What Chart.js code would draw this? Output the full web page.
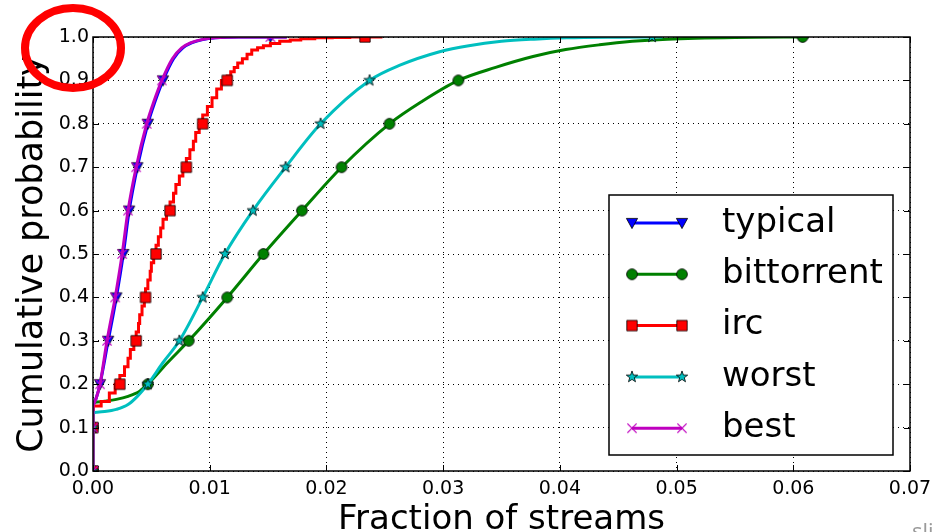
<!DOCTYPE html>
<html>
<head>
<meta charset="utf-8">
<script src="https://cdn.jsdelivr.net/npm/chart.js@4.4.0/dist/chart.umd.min.js"></script>
<style>
  html, body { margin: 0; padding: 0; background: #fff; overflow: hidden; }
  #wrap { position: relative; width: 947px; height: 532px; overflow: hidden; }
  #watermark { position: absolute; left: 912px; top: 515px; font: 22px 'Open Sans', sans-serif; color: #9a9a9a; }
</style>
</head>
<body>
<div id="wrap">
  <canvas id="cdfChart" width="947" height="532"></canvas>
  <div id="watermark">sli</div>
</div>
<script>
const seriesNames = ['typical', 'bittorrent', 'irc', 'worst', 'best'];
const seriesColors = ['#0000ff', '#008000', '#ff0000', '#00bfbf', '#bf00bf'];
const xTickLabels = ['0.00', '0.01', '0.02', '0.03', '0.04', '0.05', '0.06', '0.07'];
const yTickLabels = ['0.0', '0.1', '0.2', '0.3', '0.4', '0.5', '0.6', '0.7', '0.8', '0.9', '1.0'];

// markers sit on every tenth of the CDF
const markY = [0, 0.1, 0.2, 0.3, 0.4, 0.5, 0.6, 0.7, 0.8, 0.9, 1.0];

// first two points of each curve are the jump at x = 0
const typicalX = [0, 0, 0.0003, 0.0006, 0.0013, 0.0020, 0.0026, 0.0031, 0.0038, 0.0047, 0.0053, 0.0060, 0.0069, 0.0077, 0.0085, 0.0094, 0.0105, 0.0125, 0.0166];
const typicalY = [0, 0.15, 0.17, 0.20, 0.30, 0.40, 0.50, 0.60, 0.70, 0.80, 0.85, 0.90, 0.95, 0.975, 0.987, 0.994, 0.998, 1.0, 1.0];
const typicalMarkX = [0, 0, 0.0006, 0.0013, 0.0020, 0.0026, 0.0031, 0.0038, 0.0047, 0.0060, 0.0152];

const bittorrentX = [0, 0, 0.0010, 0.0020, 0.0030, 0.0040, 0.0047, 0.0064, 0.0082, 0.0115, 0.0146, 0.0179, 0.0213, 0.0254, 0.0281, 0.0313, 0.0345, 0.0377, 0.0405, 0.0434, 0.0462, 0.0492, 0.0550, 0.0613];
const bittorrentY = [0, 0.158, 0.161, 0.165, 0.172, 0.184, 0.20, 0.25, 0.30, 0.40, 0.50, 0.60, 0.70, 0.80, 0.85, 0.90, 0.93, 0.955, 0.971, 0.982, 0.990, 0.995, 0.999, 1.0];
const bittorrentMarkX = [0, 0, 0.0047, 0.0082, 0.0115, 0.0146, 0.0179, 0.0213, 0.0254, 0.0313, 0.0608];

const ircX = [0, 0, 0.0007, 0.0014, 0.0019, 0.0023, 0.0027, 0.0030, 0.0032, 0.0035, 0.0037, 0.0039, 0.0040, 0.0042, 0.0044, 0.0045, 0.0047, 0.0049, 0.0050, 0.0052, 0.0054, 0.0056, 0.0058, 0.0060, 0.0063, 0.0066, 0.0069, 0.0071, 0.0074, 0.0077, 0.0080, 0.0083, 0.0086, 0.0088, 0.0091, 0.0094, 0.0098, 0.0102, 0.0106, 0.0110, 0.0115, 0.0118, 0.0121, 0.0124, 0.0128, 0.0132, 0.0136, 0.0141, 0.0146, 0.0152, 0.0160, 0.0169, 0.0178, 0.0190, 0.0205, 0.0220, 0.0233, 0.0248];
const ircY = [0, 0.14, 0.15, 0.16, 0.18, 0.20, 0.22, 0.24, 0.26, 0.28, 0.30, 0.32, 0.34, 0.36, 0.38, 0.40, 0.42, 0.44, 0.46, 0.48, 0.50, 0.52, 0.54, 0.56, 0.58, 0.60, 0.62, 0.64, 0.66, 0.68, 0.70, 0.72, 0.74, 0.76, 0.78, 0.80, 0.82, 0.84, 0.86, 0.88, 0.90, 0.91, 0.92, 0.93, 0.94, 0.95, 0.96, 0.97, 0.975, 0.98, 0.985, 0.99, 0.993, 0.996, 0.998, 0.999, 1.0, 1.0];
const ircMarkX = [0, 0, 0.0023, 0.0037, 0.0045, 0.0054, 0.0066, 0.0080, 0.0094, 0.0115, 0.0233];

const worstX = [0, 0, 0.0010, 0.0020, 0.0030, 0.0038, 0.0047, 0.0060, 0.0074, 0.0094, 0.0113, 0.0137, 0.0165, 0.0195, 0.0237, 0.0263, 0.0297, 0.0322, 0.0350, 0.0378, 0.0406, 0.0450, 0.0488];
const worstY = [0, 0.135, 0.137, 0.142, 0.153, 0.172, 0.20, 0.25, 0.30, 0.40, 0.50, 0.60, 0.70, 0.80, 0.90, 0.935, 0.966, 0.980, 0.990, 0.995, 0.998, 0.9995, 1.0];
const worstMarkX = [0, 0, 0.0047, 0.0074, 0.0094, 0.0113, 0.0137, 0.0165, 0.0195, 0.0237, 0.0479];

const bestX = [0, 0, 0.0003, 0.0006, 0.0012, 0.0019, 0.0025, 0.0030, 0.0037, 0.0046, 0.0052, 0.0059, 0.0068, 0.0076, 0.0084, 0.0093, 0.0104, 0.0125, 0.0166];
const bestY = [0, 0.15, 0.17, 0.20, 0.30, 0.40, 0.50, 0.60, 0.70, 0.80, 0.85, 0.90, 0.95, 0.975, 0.987, 0.994, 0.998, 1.0, 1.0];
const bestMarkX = [0, 0, 0.0006, 0.0012, 0.0019, 0.0025, 0.0030, 0.0037, 0.0046, 0.0059, 0.0152];

const FONT = 'DejaVu Sans';

// matplotlib-like marker glyphs, drawn once and reused as point styles
function makeMarker(kind, fill) {
  const c = document.createElement('canvas');
  c.width = 16; c.height = 16;
  const g = c.getContext('2d');
  g.translate(8, 8);
  g.fillStyle = fill;
  g.strokeStyle = '#000';
  g.lineWidth = 0.8;
  g.beginPath();
  if (kind === 'tri') {
    g.moveTo(-5.6, -4.6); g.lineTo(5.6, -4.6); g.lineTo(0, 5.6); g.closePath();
  } else if (kind === 'circle') {
    g.arc(0, 0, 5.4, 0, Math.PI * 2);
  } else if (kind === 'square') {
    g.rect(-5.2, -5.2, 10.4, 10.4);
  } else if (kind === 'star') {
    for (let i = 0; i < 10; i++) {
      const r = i % 2 ? 2.4 : 6;
      const a = -Math.PI / 2 + i * Math.PI / 5;
      if (i === 0) g.moveTo(r * Math.cos(a), r * Math.sin(a));
      else g.lineTo(r * Math.cos(a), r * Math.sin(a));
    }
    g.closePath();
  } else if (kind === 'x') {
    g.strokeStyle = fill;
    g.lineWidth = 1.3;
    g.moveTo(-4.6, -4.6); g.lineTo(4.6, 4.6);
    g.moveTo(4.6, -4.6); g.lineTo(-4.6, 4.6);
    g.stroke();
    return c;
  }
  g.fill();
  g.stroke();
  return c;
}

const seriesX = [typicalX, bittorrentX, ircX, worstX, bestX];
const seriesY = [typicalY, bittorrentY, ircY, worstY, bestY];
const seriesMarkX = [typicalMarkX, bittorrentMarkX, ircMarkX, worstMarkX, bestMarkX];
const markerKinds = ['tri', 'circle', 'square', 'star', 'x'];
const markers = markerKinds.map((k, i) => makeMarker(k, seriesColors[i]));

const toPoints = (xs, ys) => xs.map((x, j) => ({ x, y: ys[j] }));

const datasets = [];
seriesNames.forEach((name, i) => {
  const n = seriesNames.length;
  const base = 3 * (n - i); // later series paint over earlier ones, like matplotlib
  const lineStyle = { borderColor: seriesColors[i], borderWidth: 3, pointRadius: 0, clip: 0 };
  if (name === 'irc') {
    // irc has few distinct values, so its CDF is a staircase
    datasets.push({ ...lineStyle, label: name, data: toPoints(seriesX[i], seriesY[i]), stepped: 'after', order: base + 2 });
  } else {
    datasets.push({ ...lineStyle, label: name + ' jump', data: toPoints(seriesX[i].slice(0, 2), seriesY[i].slice(0, 2)), order: base + 2 });
    datasets.push({ ...lineStyle, label: name, data: toPoints(seriesX[i].slice(1), seriesY[i].slice(1)), cubicInterpolationMode: 'monotone', order: base + 1 });
  }
  datasets.push({
    label: name + ' markers',
    data: toPoints(seriesMarkX[i], markY),
    showLine: false,
    pointStyle: markers[i],
    pointRadius: 5,
    clip: 0,
    order: base,
  });
});

const framePlugin = {
  id: 'frame',
  afterDatasetsDraw(chart) {
    const { ctx, chartArea: a, scales: { x, y } } = chart;
    ctx.save();
    ctx.strokeStyle = '#000';
    ctx.lineWidth = 1;
    ctx.beginPath();
    x.ticks.forEach(t => {
      const px = Math.round(x.getPixelForValue(t.value)) + 0.5;
      ctx.moveTo(px, a.bottom); ctx.lineTo(px, a.bottom - 6);
      ctx.moveTo(px, a.top); ctx.lineTo(px, a.top + 6);
    });
    y.ticks.forEach(t => {
      const py = Math.round(y.getPixelForValue(t.value)) + 0.5;
      ctx.moveTo(a.left, py); ctx.lineTo(a.left + 6, py);
      ctx.moveTo(a.right, py); ctx.lineTo(a.right - 6, py);
    });
    ctx.stroke();
    ctx.lineWidth = 1.5;
    ctx.strokeRect(a.left, a.top, a.right - a.left, a.bottom - a.top);
    ctx.restore();
  },
};

const legendPlugin = {
  id: 'boxLegend',
  afterDraw(chart) {
    const ctx = chart.ctx;
    ctx.save();
    ctx.fillStyle = '#fff';
    ctx.fillRect(609, 195, 284, 260);
    ctx.strokeStyle = '#000';
    ctx.lineWidth = 1.5;
    ctx.strokeRect(609, 195, 284, 260);
    ctx.font = `34px '${FONT}'`;
    ctx.textBaseline = 'middle';
    ctx.textAlign = 'left';
    seriesNames.forEach((name, i) => {
      const yRow = 223 + i * 51.3;
      ctx.strokeStyle = seriesColors[i];
      ctx.lineWidth = 3;
      ctx.beginPath();
      ctx.moveTo(632, yRow); ctx.lineTo(682, yRow);
      ctx.stroke();
      [632, 682].forEach(xm => ctx.drawImage(markers[i], xm - 8, yRow - 8));
      ctx.fillStyle = '#000';
      ctx.fillText(name, 722, yRow);
    });
    ctx.restore();
  },
};

// the red hand-drawn highlight round the 1.0 label
const circlePlugin = {
  id: 'highlight',
  afterDraw(chart) {
    const ctx = chart.ctx;
    ctx.save();
    ctx.strokeStyle = '#ff0000';
    ctx.lineWidth = 8;
    ctx.beginPath();
    ctx.ellipse(73, 48, 48, 40, 0, 0, Math.PI * 2);
    ctx.stroke();
    ctx.restore();
  },
};

new Chart(document.getElementById('cdfChart'), {
  type: 'line',
  data: { datasets },
  plugins: [framePlugin, legendPlugin, circlePlugin],
  options: {
    responsive: false,
    animation: false,
    layout: { padding: { top: 37, right: 37, left: 0, bottom: 0 } },
    plugins: { legend: { display: false }, tooltip: { enabled: false } },
    scales: {
      x: {
        type: 'linear',
        min: 0,
        max: 0.07,
        afterFit: s => { s.height = 61; },
        ticks: {
          stepSize: 0.01,
          autoSkip: false,
          maxRotation: 0,
          padding: 7,
          color: '#000',
          font: { family: FONT, size: 19 },
          callback: (v, i) => xTickLabels[i],
        },
        grid: { color: '#000', lineWidth: 1, drawTicks: false },
        border: { display: false, dash: [1, 4] },
        title: {
          display: true,
          text: 'Fraction of streams',
          color: '#000',
          font: { family: FONT, size: 34 },
          padding: { top: 0, bottom: -9 },
        },
      },
      y: {
        min: 0,
        max: 1,
        afterFit: s => { s.width = 93; },
        ticks: {
          stepSize: 0.1,
          padding: 4,
          color: '#000',
          font: { family: FONT, size: 19 },
          callback: (v, i) => yTickLabels[i],
        },
        grid: { color: '#000', lineWidth: 1, drawTicks: false },
        border: { display: false, dash: [1, 4] },
        title: {
          display: true,
          text: 'Cumulative probability',
          color: '#000',
          font: { family: FONT, size: 35 },
          padding: { top: 12, bottom: 0 },
        },
      },
    },
  },
});
</script>
</body>
</html>
